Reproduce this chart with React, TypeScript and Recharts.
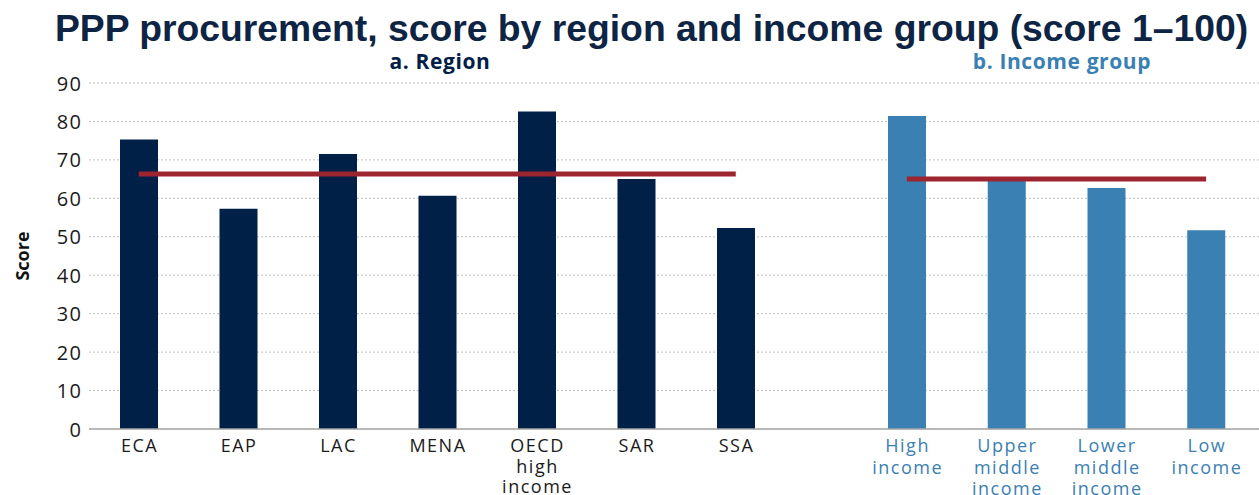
import { ComposedChart, Bar, Line, XAxis, YAxis, CartesianGrid } from 'recharts';

const regions = ['ECA', 'EAP', 'LAC', 'MENA', 'OECD high income', 'SAR', 'SSA'];
const regionScores = [75.3, 57.3, 71.5, 60.7, 82.6, 65.0, 52.3];
const regionAverage = 66.3;

const incomeGroups = ['High income', 'Upper middle income', 'Lower middle income', 'Low income'];
const incomeScores = [81.4, 65.0, 62.7, 51.7];
const incomeAverage = 65.0;

const scoreTicks = [0, 10, 20, 30, 40, 50, 60, 70, 80, 90];

const NAVY = '#012048';
const BLUE = '#3a80b3';
const RED = '#9c2530';
const GRID = '#b9b9b9';
const FONT = "'Open Sans', sans-serif";

const regionData = regions.map((name, i) => ({ name, score: regionScores[i], avg: regionAverage }));
const incomeData = incomeGroups.map((name, i) => ({ name, score: incomeScores[i], avg: incomeAverage }));

// category labels wrap on spaces, one word per line
const makeTick = (color: string, lineGap: number) => (props: any) => {
  const { x, y, payload } = props;
  const lines = String(payload.value).split(' ');
  return (
    <text x={x + 0.75} y={y + 15} textAnchor="middle" fill={color} fontSize={18} letterSpacing={1.5} fontFamily={FONT}>
      {lines.map((l, i) => (
        <tspan key={i} x={x + 0.75} dy={i === 0 ? 0 : lineGap}>{l}</tspan>
      ))}
    </text>
  );
};

const ScoreTick = (props: any) => {
  const { x, y, payload } = props;
  return (
    <text x={x + 1.5} y={y} textAnchor="end" dominantBaseline="central" fill="#1a1a1a"
      fontSize={20} letterSpacing={1.5} fontFamily={FONT}>
      {payload.value}
    </text>
  );
};

const ScoreLabel = (props: any) => {
  const { viewBox } = props;
  const cy = viewBox.y + viewBox.height / 2;
  return (
    <text x={22} y={cy} transform={`rotate(-90, 22, ${cy})`} textAnchor="middle" dominantBaseline="central"
      fontSize={18} fontWeight={700} fill="#111" fontFamily={FONT}>
      Score
    </text>
  );
};

const panelTitle = (color: string): React.CSSProperties => ({
  position: 'absolute', top: 51, width: 240, textAlign: 'center', lineHeight: '21px',
  fontFamily: FONT, fontWeight: 700, fontSize: 21, letterSpacing: 0.6, color, whiteSpace: 'nowrap',
});

export default function App() {
  return (
    <div style={{ position: 'absolute', left: 0, top: 0, width: 1259, height: 495, background: '#fff', overflow: 'hidden' }}>
      <div style={{
        position: 'absolute', left: 0, top: 6, width: 1303, textAlign: 'center',
        fontFamily: "'Liberation Sans', Arial, sans-serif", fontWeight: 700, fontSize: 37.3,
        color: '#0e2444', lineHeight: '44px', whiteSpace: 'nowrap',
      }}>
        PPP procurement, score by region and income group (score 1–100)
      </div>
      <div style={{ ...panelTitle(NAVY), left: 440 - 120 }}>a. Region</div>
      <div style={{ ...panelTitle(BLUE), left: 1062 - 120 }}>b. Income group</div>

      <div style={{ position: 'absolute', left: 0, top: 0 }}>
        <ComposedChart width={857} height={495} data={regionData} margin={{ top: 83, right: 0, bottom: 0, left: 0 }}>
          <XAxis dataKey="name" height={66} tickLine={false} interval={0}
            axisLine={{ stroke: '#a6a6a6', strokeWidth: 1.5 }}
            padding={{ left: 0, right: 71.5 }} tick={makeTick('#1a1a1a', 20.7)} />
          <YAxis domain={[0, 90]} ticks={scoreTicks} width={89} axisLine={false} tickLine={false}
            tick={<ScoreTick />} label={<ScoreLabel />} />
          <Bar dataKey="score" fill={NAVY} barSize={38} isAnimationActive={false} />
          <CartesianGrid vertical={false} stroke={GRID} strokeDasharray="2 2" strokeOpacity={0.9} />
          <Line dataKey="avg" stroke={RED} strokeWidth={5} dot={false} activeDot={false} isAnimationActive={false} />
        </ComposedChart>
      </div>

      <div style={{ position: 'absolute', left: 857, top: 0 }}>
        <ComposedChart width={402} height={495} data={incomeData} margin={{ top: 83, right: 0, bottom: 0, left: 0 }}>
          <XAxis dataKey="name" height={66} tickLine={false} interval={0}
            axisLine={{ stroke: '#a6a6a6', strokeWidth: 1.5 }}
            padding={{ left: 0, right: 3 }} tick={makeTick(BLUE, 21.6)} />
          <YAxis hide domain={[0, 90]} ticks={scoreTicks} />
          <Bar dataKey="score" fill={BLUE} barSize={38} isAnimationActive={false} />
          <CartesianGrid vertical={false} stroke={GRID} strokeDasharray="2 2" strokeOpacity={0.9} />
          <Line dataKey="avg" stroke={RED} strokeWidth={5} dot={false} activeDot={false} isAnimationActive={false} />
        </ComposedChart>
      </div>
    </div>
  );
}
